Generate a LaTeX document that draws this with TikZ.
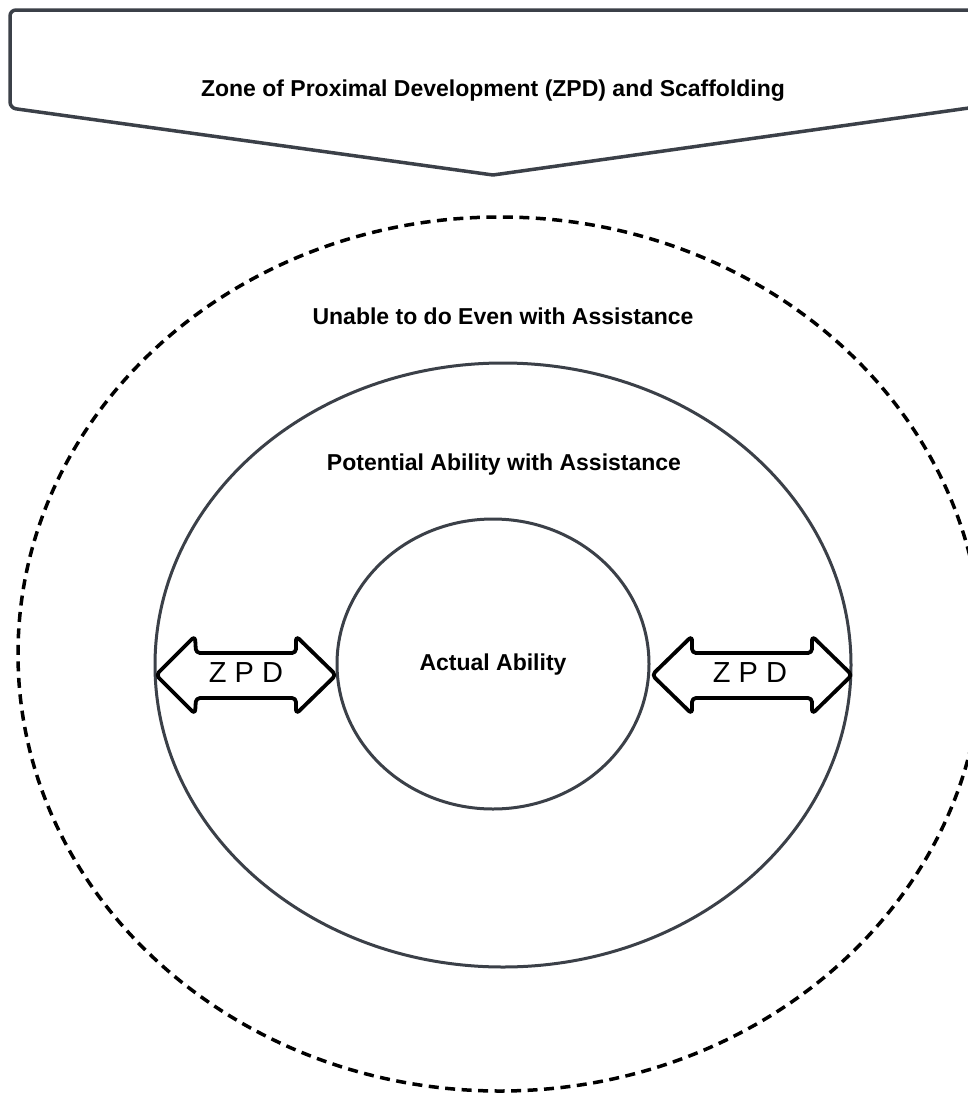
\documentclass[tikz,border=0pt]{standalone}
\usepackage{fontspec}
\setmainfont{Liberation Sans}
\usetikzlibrary{shapes.geometric}
\definecolor{rimgray}{HTML}{3B4048}
\tikzset{
  zone/.style={ellipse, draw=rimgray, line width=3pt, inner sep=0pt},
  outerzone/.style={ellipse, draw=black, line width=3.5pt, dash pattern=on 10pt off 6.5pt, inner sep=0pt},
  label/.style={font=\fontsize{23}{27}\selectfont\bfseries, inner sep=0pt, anchor=base},
  zpdtext/.style={font=\fontsize{29}{33}\selectfont, inner sep=0pt, anchor=base},
  twoway/.style={draw=black, line width=3.8pt, fill=white, rounded corners=4pt, line join=round},
  banner/.style={draw=rimgray, line width=3.5pt, fill=white, rounded corners=6pt, line join=round}
}
\begin{document}
\begin{tikzpicture}[x=1pt, y=-1pt]
  \useasboundingbox (0,0) rectangle (968,1095);
  \clip (0,0) rectangle (968,1095);
  \fill[white] (0,0) rectangle (968,1095);

  % heading pennant
  \draw[banner] (976,107) -- (976,10) -- (10,10) -- (10,108)
        [sharp corners] -- (493,175) -- cycle;
  \node[label] (title) at (493,96) {Zone of Proximal Development (ZPD) and Scaffolding};

  % the three zones
  \node[outerzone, minimum width=964pt, minimum height=874pt] (unable) at (500,654) {};
  \node[zone, minimum width=696pt, minimum height=604pt] (potential) at (503,665) {};
  \node[zone, minimum width=312pt, minimum height=290pt] (actual) at (493,664) {};

  \node[label] (unabletxt) at (503,324) {Unable to do Even with Assistance};
  \node[label] (potentialtxt) at (504,470) {Potential Ability with Assistance};
  \node[label] (actualtxt) at (493,670) {Actual Ability};

  % two-headed ZPD arrows
  \draw[twoway] (156,675) -- (195,636) -- (196,653) -- (296,653) -- (296,636)
        -- (336,675) -- (296,714) -- (296,698) -- (196,698) -- (195,714) -- cycle;
  \node[zpdtext] (zpdleft) at (246,682) {Z P D};

  \draw[twoway] (652,675) -- (692,636) -- (692,653) -- (812,653) -- (812,636)
        -- (852,675) -- (812,714) -- (812,698) -- (692,698) -- (692,714) -- cycle;
  \node[zpdtext] (zpdright) at (750,682) {Z P D};
\end{tikzpicture}
\end{document}
